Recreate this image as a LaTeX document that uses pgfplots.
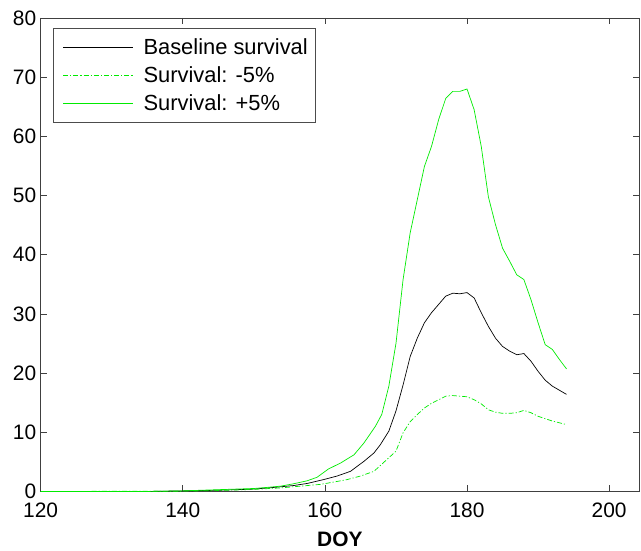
\documentclass[border=0pt]{standalone}
\usepackage{pgfplots}
\pgfplotsset{compat=1.18}
\usepackage{fontspec}
\setmainfont{Liberation Sans}
\definecolor{mgreen}{RGB}{0,235,0}
\begin{document}
\begin{tikzpicture}[x=1bp,y=1bp]
\begin{axis}[
  scale only axis,
  width=599bp, height=474bp,
  xmin=120, xmax=204.2, ymin=0, ymax=80,
  xtick={120,140,160,180,200},
  ytick={0,10,20,30,40,50,60,70,80},
  tick align=inside,
  major tick length=6bp,
  axis line style={black!75, line width=0.6pt},
  every tick/.style={black!75, line width=0.6pt},
  /pgf/number format/assume math mode=true,
  ticklabel style={font=\fontsize{21}{25}\selectfont},
  xticklabel style={yshift=-8bp},
  yticklabel style={xshift=-1bp},
  xlabel={\textbf{DOY}},
  xlabel style={font=\fontsize{21}{25}\selectfont, yshift=-7bp},
  legend cell align=left,
  legend style={at={(12/599,1-10/474)}, anchor=north west,
    font=\fontsize{22}{26}\selectfont, draw=black!70, line width=0.6pt,
    row sep=7bp, inner xsep=6bp, inner ysep=8bp},
]
\addplot[black, line width=0.7pt,
  legend image code/.code={\draw[draw=black, line width=0.8pt] (4bp,0bp) -- (74bp,0bp);\path (0bp,0bp) (82bp,0bp);}] coordinates {
(120,0) (135,0) (140,0.1) (145,0.2) (150,0.4) (153,0.7) (155.6,1.0) (157.5,1.35)
(159.8,2.0) (161.7,2.6) (163.6,3.4) (165.5,5.1) (166.9,6.5) (167.8,7.9) (169,10.2)
(170,13.6) (171,18.0) (172,22.8) (173,25.9) (174,28.5) (175,30.2) (176,31.6)
(177,33.0) (178,33.5) (179,33.4) (180,33.6) (181,32.7) (182,30.2) (183,27.9)
(184,25.9) (185,24.5) (186,23.7) (187,23.1) (188,23.3) (189,22.0) (190,20.3)
(191,18.8) (192,17.8) (193,17.1) (194,16.4)};
\addlegendentry{Baseline survival}
\addplot[mgreen, line width=0.7pt, dash pattern=on 5bp off 2bp on 1.2bp off 2bp,
  legend image code/.code={\draw[draw=mgreen, line width=0.8pt, dash pattern=on 5bp off 2bp on 1.2bp off 2bp] (4bp,0bp) -- (74bp,0bp);\path (0bp,0bp) (82bp,0bp);}] coordinates {
(120,0) (140,0.05) (145,0.15) (150,0.35) (153.8,0.6) (156.6,0.9) (159.4,1.2)
(161.3,1.6) (163.1,2.0) (165,2.6) (166.9,3.4) (168,4.6) (169,5.7) (170,6.8)
(171,9.9) (172,11.8) (173,13.0) (174,14.1) (175,14.9) (176,15.5) (177,16.1)
(178,16.2) (179,16.1) (180,16.0) (181,15.5) (182,14.8) (183,13.8) (184,13.4)
(185,13.2) (186,13.2) (187,13.3) (188,13.7) (189,13.3) (190,12.7) (191,12.3)
(192,11.9) (193,11.6) (194,11.3)};
\addlegendentry{Survival: -5\%}
\addplot[mgreen, line width=0.7pt,
  legend image code/.code={\draw[draw=mgreen, line width=0.8pt] (4bp,0bp) -- (74bp,0bp);\path (0bp,0bp) (82bp,0bp);}] coordinates {
(120,0) (135,0) (140,0.1) (145,0.3) (150,0.5) (152,0.7) (153.8,0.9) (155.6,1.3)
(157.5,1.8) (158.9,2.4) (160.5,3.8) (162.2,4.8) (164.1,6.2) (165.5,8.2)
(167.1,11.0) (168,13.0) (169,17.8) (170,25.0) (171,35.8) (172,43.7) (173,49.3)
(174,54.9) (175,58.3) (176,62.8) (177,66.4) (178,67.6) (179,67.6) (180,68.0)
(181,64.5) (182,58.3) (183,49.8) (184,45.1) (185,41.1) (186,38.9) (187,36.6)
(188,35.8) (189,32.4) (190,28.5) (191,24.8) (192,24.0) (193,22.3) (194,20.7)};
\addlegendentry{Survival: +5\%}
\end{axis}
\path ([xshift=-40.7bp,yshift=-59bp]current axis.south west) rectangle ([xshift=2bp,yshift=18bp]current axis.north east);
\end{tikzpicture}
\end{document}
